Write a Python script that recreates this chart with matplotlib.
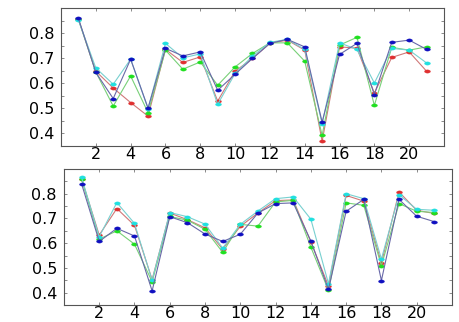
import numpy as np
import matplotlib
matplotlib.use("Agg")
import matplotlib.pyplot as plt
from matplotlib.ticker import MultipleLocator

# x positions 1..21
x = np.arange(1, 22)

# top panel
top_red = [0.855, 0.648, 0.581, 0.523, 0.469, 0.735, 0.683, 0.705, 0.529, 0.648, 0.699,
           0.759, 0.772, 0.732, 0.369, 0.745, 0.740, 0.561, 0.703, 0.725, 0.648]
top_green = [0.855, 0.645, 0.509, 0.629, 0.483, 0.732, 0.656, 0.685, 0.592, 0.665, 0.719,
             0.761, 0.761, 0.688, 0.392, 0.752, 0.783, 0.512, 0.743, 0.732, 0.745]
top_cyan = [0.852, 0.661, 0.596, 0.696, 0.499, 0.759, 0.701, 0.717, 0.516, 0.639, 0.708,
            0.763, 0.775, 0.735, 0.439, 0.761, 0.735, 0.601, 0.739, 0.732, 0.681]
top_blue = [0.859, 0.643, 0.539, 0.696, 0.501, 0.739, 0.709, 0.725, 0.572, 0.636, 0.699,
            0.759, 0.775, 0.745, 0.445, 0.715, 0.759, 0.555, 0.763, 0.772, 0.735]

# bottom panel
bot_red = [0.860, 0.633, 0.740, 0.672, 0.453, 0.722, 0.695, 0.662, 0.576, 0.668, 0.722,
           0.772, 0.775, 0.605, 0.427, 0.793, 0.770, 0.520, 0.807, 0.733, 0.720]
bot_green = [0.860, 0.616, 0.650, 0.596, 0.444, 0.708, 0.693, 0.656, 0.563, 0.676, 0.669,
             0.767, 0.773, 0.584, 0.409, 0.763, 0.753, 0.509, 0.760, 0.729, 0.724]
bot_cyan = [0.866, 0.626, 0.764, 0.680, 0.450, 0.724, 0.707, 0.677, 0.580, 0.676, 0.730,
            0.780, 0.787, 0.697, 0.436, 0.800, 0.780, 0.536, 0.796, 0.737, 0.733]
bot_blue = [0.840, 0.607, 0.660, 0.629, 0.407, 0.707, 0.683, 0.637, 0.607, 0.636, 0.722,
            0.760, 0.763, 0.609, 0.413, 0.729, 0.777, 0.449, 0.777, 0.709, 0.687]

xticks = [2, 4, 6, 8, 10, 12, 14, 16, 18, 20]
yticks = [0.4, 0.5, 0.6, 0.7, 0.8]

line_cols = ['#d07878', '#78d078', '#78d0d0', '#6868a8']
mark_cols = ['#e03030', '#20e020', '#20e0e0', '#1010c0']

# flat oval marker, the dots in the scan are wider than tall
t = np.linspace(0, 2 * np.pi, 25)
oval = np.column_stack([np.cos(t), 0.55 * np.sin(t)])

fig = plt.figure(figsize=(4.6, 3.22), dpi=100)
ax1 = fig.add_axes([0.1326, 0.5466, 0.8326, 0.4286])
ax2 = fig.add_axes([0.139, 0.0528, 0.8435, 0.4224])

panels = [(ax1, [top_red, top_green, top_cyan, top_blue]),
          (ax2, [bot_red, bot_green, bot_cyan, bot_blue])]

for ax, series in panels:
    for ys, lc, mc in zip(series, line_cols, mark_cols):
        ax.plot(x, ys, color=lc, lw=0.8, marker=oval, ms=4.2,
                mfc=mc, mec=mc, mew=0.3, zorder=3)
    ax.set_xlim(0, 22)
    ax.set_ylim(0.35, 0.9)
    ax.set_xticks(xticks)
    ax.set_xticklabels([str(t) for t in xticks])
    ax.set_yticks(yticks)
    ax.set_yticklabels(['%.1f' % t for t in yticks])
    ax.yaxis.set_minor_locator(MultipleLocator(0.05))
    ax.tick_params(which='both', direction='in', length=2.5, width=0.6,
                   color='#777777', top=True, right=True, labelsize=11.5)
    ax.tick_params(axis='x', pad=1)
    ax.tick_params(axis='y', pad=5)
    for s in ax.spines.values():
        s.set_color('#555555')
        s.set_linewidth(0.8)

fig.savefig('out.png', dpi=100)
